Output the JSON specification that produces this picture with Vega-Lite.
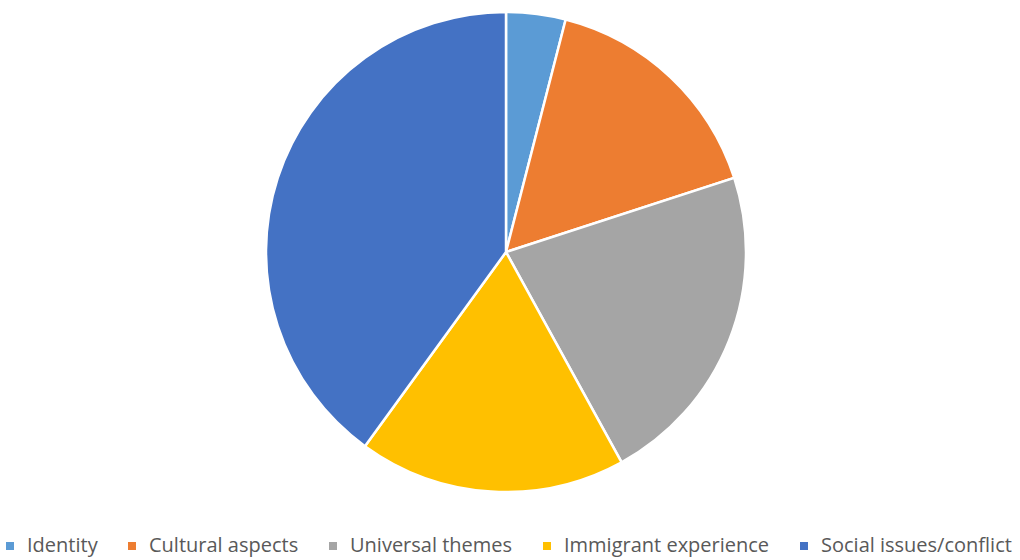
{
  "$schema": "https://vega.github.io/schema/vega-lite/v6.json",
  "width": 1020,
  "height": 560,
  "autosize": {"type": "fit", "contains": "padding"},
  "padding": {"left": 0, "right": 8, "top": 0, "bottom": 4},
  "background": "white",
  "config": {"view": {"stroke": null}, "font": "Open Sans", "legend": {"layout": {"bottom": {"anchor": "middle"}}}},
  "data": {
    "values": [
      {"category": "Identity", "value": 4, "order": 1},
      {"category": "Cultural aspects", "value": 16, "order": 2},
      {"category": "Universal themes", "value": 22, "order": 3},
      {"category": "Immigrant experience", "value": 18, "order": 4},
      {"category": "Social issues/conflict", "value": 40, "order": 5}
    ]
  },
  "mark": {"type": "arc", "outerRadius": 240, "stroke": "white", "strokeWidth": 2.5},
  "encoding": {
    "theta": {"field": "value", "type": "quantitative", "stack": true},
    "order": {"field": "order", "type": "quantitative"},
    "color": {
      "field": "category",
      "type": "nominal",
      "scale": {
        "domain": ["Identity", "Cultural aspects", "Universal themes", "Immigrant experience", "Social issues/conflict"],
        "range": ["#5B9BD5", "#ED7D31", "#A5A5A5", "#FFC000", "#4472C4"]
      },
      "legend": {
        "orient": "bottom",
        "direction": "horizontal",
        "title": null,
        "symbolType": "square",
        "symbolSize": 90,
        "labelFontSize": 20,
        "labelLimit": 0,
        "labelColor": "#595959",
        "labelFont": "Open Sans",
        "columnPadding": 24,
        "symbolOffset": 0,
        "labelOffset": 7,
        "offset": 32
      }
    }
  }
}
